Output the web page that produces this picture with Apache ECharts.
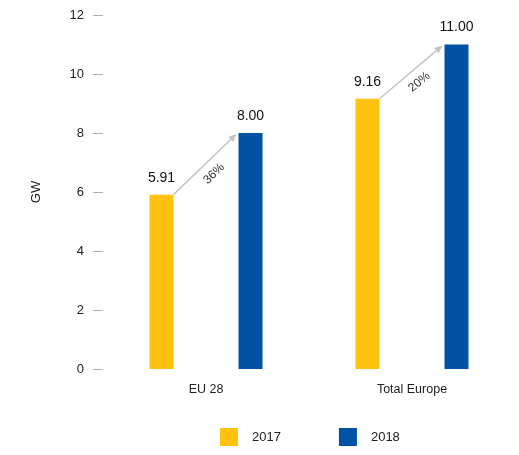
<!DOCTYPE html>
<html>
<head>
<meta charset="utf-8">
<script src="https://cdn.jsdelivr.net/npm/echarts@6/dist/echarts.min.js"></script>
<style>
    html, body { margin: 0; padding: 0; background: #fff; }
    #main_chart { width: 519px; height: 455px; }
</style>
</head>
<body>
<div id="main_chart"></div>
<script>
var categories = ['EU 28', 'Total Europe'];
var values2017 = [5.91, 9.16];
var values2018 = [8.00, 11.00];
var growthLabels = ['36%', '20%'];
var yTicks = [0, 2, 4, 6, 8, 10, 12];

var BAR_WIDTH = 24;
var BAR_SPACE = 65;     // 两柱之间的空隙
var FONT = 'Liberation Sans, Arial, Helvetica, sans-serif';

// 增长箭头数据: [类目索引, 2017, 2018]
var arrowData = categories.map(function (c, i) {
    return [i, values2017[i], values2018[i]];
});

function renderArrow(params, api) {
    var idx = api.value(0);
    var p1 = api.coord([idx, api.value(1)]);
    var p2 = api.coord([idx, api.value(2)]);
    var half = (BAR_WIDTH + BAR_SPACE) / 2;
    var x1 = p1[0] - half + BAR_WIDTH / 2;
    var y1 = p1[1];
    var x2 = p2[0] + half - BAR_WIDTH / 2 - 2;
    var y2 = p2[1] + 1;
    var dx = x2 - x1, dy = y2 - y1;
    var len = Math.sqrt(dx * dx + dy * dy);
    var ux = dx / len, uy = dy / len;
    var headLen = 8, headW = 3.5;
    var bx = x2 - ux * headLen, by = y2 - uy * headLen;
    var mx = (x1 + x2) / 2 + (-uy) * 13;
    var my = (y1 + y2) / 2 + ux * 13;
    return {
        type: 'group',
        children: [{
            type: 'line',
            shape: {x1: x1, y1: y1, x2: bx, y2: by},
            style: {stroke: '#c4c4c4', lineWidth: 1.5}
        }, {
            type: 'polygon',
            shape: {points: [[x2, y2], [bx - uy * headW, by + ux * headW], [bx + uy * headW, by - ux * headW]]},
            style: {fill: '#c4c4c4'}
        }, {
            type: 'text',
            x: mx,
            y: my,
            rotation: Math.atan2(-dy, dx),
            style: {
                text: growthLabels[params.dataIndex],
                fill: '#333',
                font: '12px ' + FONT,
                align: 'center',
                verticalAlign: 'middle'
            }
        }]
    };
}

var barLabel = {
    show: true,
    position: 'top',
    distance: 10,
    fontSize: 14,
    color: '#111',
    fontFamily: FONT,
    formatter: function (p) { return p.value.toFixed(2); }
};

var option = {
    animation: false,
    textStyle: {fontFamily: FONT},
    grid: {left: 103, right: 4, top: 15, bottom: 86},
    legend: {
        data: ['2017', '2018'],
        top: 423,
        left: 215,
        icon: 'rect',
        itemWidth: 18,
        itemHeight: 18,
        itemGap: 58,
        textStyle: {fontSize: 13, color: '#222', padding: [0, 0, 0, 9]}
    },
    xAxis: {
        type: 'category',
        data: categories,
        axisLine: {show: false},
        axisTick: {show: false},
        axisLabel: {fontSize: 12.5, color: '#222', margin: 14}
    },
    yAxis: {
        type: 'value',
        min: yTicks[0],
        max: yTicks[yTicks.length - 1],
        interval: 2,
        name: 'GW',
        nameLocation: 'middle',
        nameGap: 60,
        nameTextStyle: {fontSize: 13, color: '#222'},
        axisLine: {show: false},
        axisTick: {show: true, length: 10, lineStyle: {color: '#b0b0b0'}},
        axisLabel: {fontSize: 13, color: '#222', margin: 19},
        splitLine: {show: false}
    },
    series: [{
        name: '2017',
        type: 'bar',
        data: values2017,
        barWidth: BAR_WIDTH,
        barGap: (BAR_SPACE / BAR_WIDTH * 100) + '%',
        itemStyle: {color: '#FFC20E'},
        label: barLabel
    }, {
        name: '2018',
        type: 'bar',
        data: values2018,
        barWidth: BAR_WIDTH,
        itemStyle: {color: '#0052A5'},
        label: barLabel
    }, {
        type: 'custom',
        renderItem: renderArrow,
        data: arrowData,
        encode: {x: 0, y: [1, 2]},
        silent: true,
        z: 5
    }]
};

echarts.init(document.getElementById('main_chart')).setOption(option);
</script>
</body>
</html>
